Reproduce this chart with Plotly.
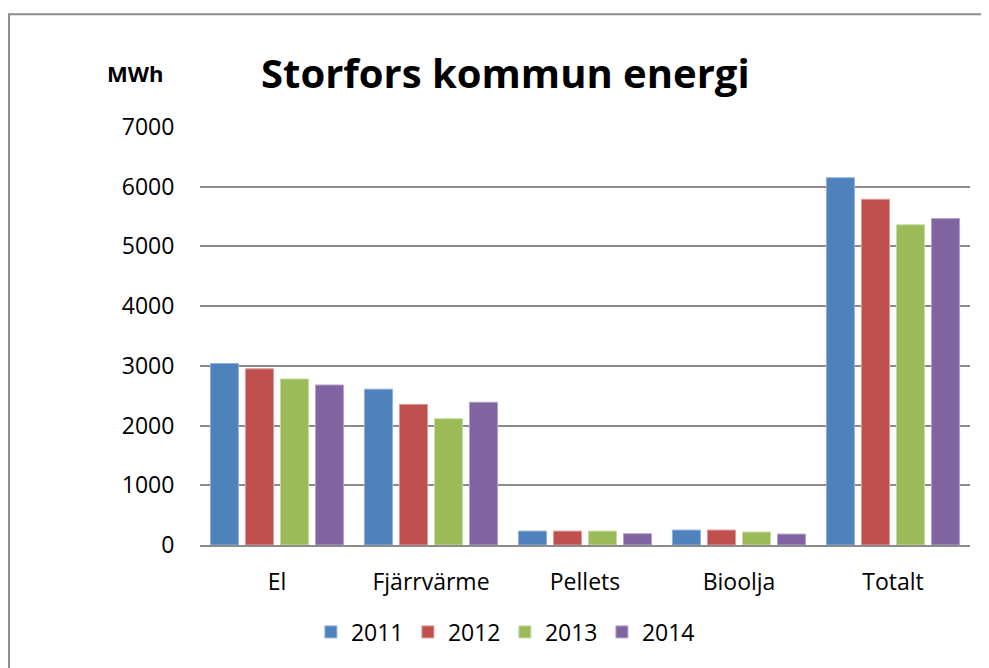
import plotly.graph_objects as go

categories = ["El", "Fjärrvärme", "Pellets", "Bioolja", "Totalt"]
years = ["2011", "2012", "2013", "2014"]
v2011 = [3040, 2610, 233, 250, 6150]
v2012 = [2950, 2355, 233, 250, 5790]
v2013 = [2780, 2115, 233, 217, 5362]
v2014 = [2680, 2390, 189, 183, 5467]
y_ticks = [0, 1000, 2000, 3000, 4000, 5000, 6000, 7000]

series = [v2011, v2012, v2013, v2014]
colors = ["#4F81BD", "#C0504D", "#9BBB59", "#8064A2"]
edges = ["#8FB0D9", "#DC9A98", "#C6DAA0", "#B3A2C9"]

FONT = "'Open Sans', 'Noto Sans', sans-serif"

fig = go.Figure()
for yr, vals, c, e in zip(years, series, colors, edges):
    fig.add_trace(go.Bar(name=yr, x=categories, y=vals,
                         marker=dict(color=c, line=dict(color=e, width=1))))

fig.update_layout(
    width=981, height=660,
    paper_bgcolor="white", plot_bgcolor="white",
    margin=dict(l=192, r=19, t=119, b=123),
    barmode="group", bargap=0.09, bargroupgap=0.2,
    font=dict(family=FONT, color="black", size=23),
    showlegend=True,
    legend=dict(orientation="h", x=0.396, xanchor="center", y=-0.208, yanchor="middle",
                font=dict(size=23, family=FONT), entrywidth=52, traceorder="normal"),
    annotations=[
        dict(text="<b>Storfors kommun energi</b>", xref="paper", yref="paper",
             x=0.397, y=1.13, xanchor="center", yanchor="middle", showarrow=False,
             font=dict(size=40, family=FONT)),
        dict(text="<b>MWh</b>", xref="paper", yref="paper",
             x=-0.0844, y=1.129, xanchor="center", yanchor="middle", showarrow=False,
             font=dict(size=22, family=FONT)),
    ],
    shapes=[dict(type="rect", xref="paper", yref="paper",
                 x0=-0.248, x1=1.04, y0=-0.36, y1=1.270,
                 line=dict(color="#8C8C8C", width=2), fillcolor="rgba(0,0,0,0)",
                 layer="below")],
)
fig.update_yaxes(range=[0, 7000], tickvals=y_ticks, showgrid=True,
                 gridcolor="#8C8C8C", gridwidth=2, zeroline=False,
                 ticks="outside", ticklen=20, tickcolor="rgba(0,0,0,0)",
                 tickfont=dict(size=23, family=FONT), showline=False)
fig.update_xaxes(showline=True, linecolor="#8C8C8C", linewidth=2,
                 ticks="outside", ticklen=15, tickcolor="rgba(0,0,0,0)",
                 tickfont=dict(size=23, family=FONT))

fig.write_html("out.html")
